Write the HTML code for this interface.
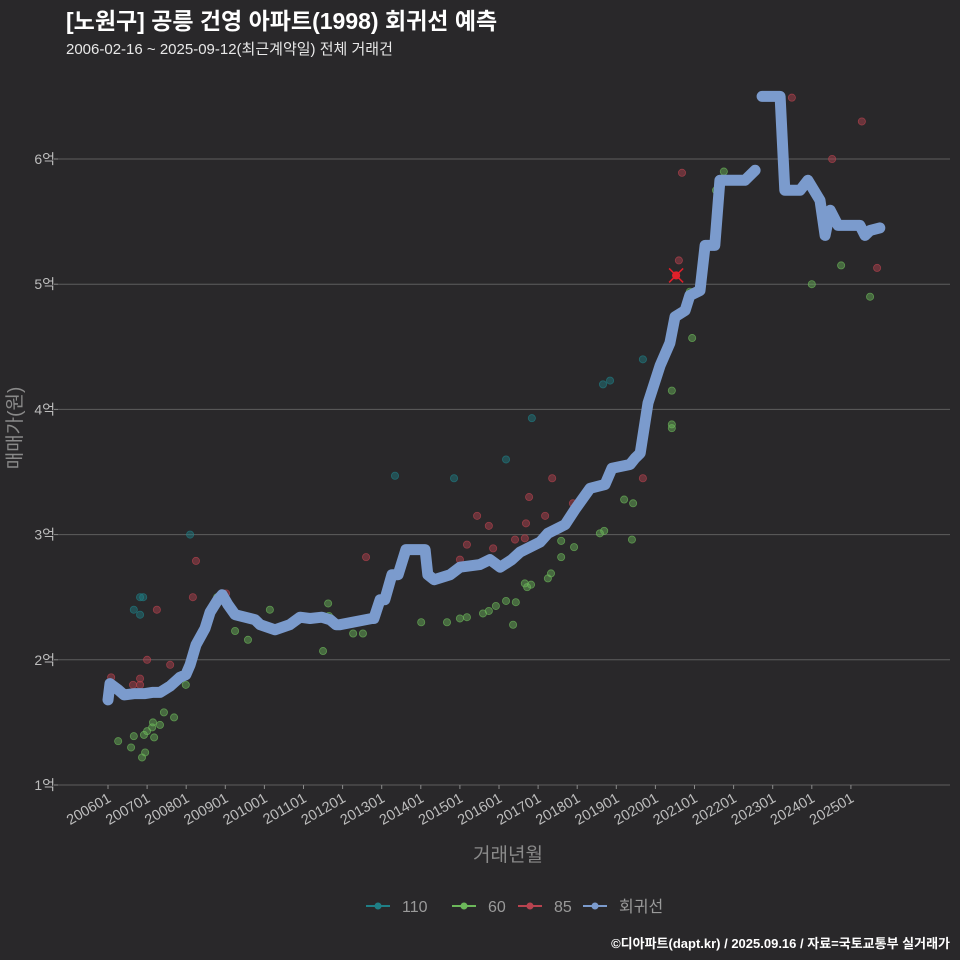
<!DOCTYPE html>
<html><head><meta charset="utf-8">
<style>
body{margin:0;background:#29282a;}
svg{display:block;font-family:"Liberation Sans","Noto Sans CJK KR",sans-serif;}
</style></head>
<body>
<svg id="chart" width="960" height="960">
<rect width="960" height="960" fill="#29282a"/>
<text x="66" y="29" fill="#ffffff" font-size="23" font-weight="bold">[노원구] 공릉 건영 아파트(1998) 회귀선 예측</text>
<text x="66" y="54" fill="#e8e8e8" font-size="15">2006-02-16 ~ 2025-09-12(최근계약일) 전체 거래건</text>
<g id="grid"></g>
<g id="yticks"></g>
<g id="xticks"></g>
<g id="points"></g>
<g id="line"></g>
<text transform="translate(21,428) rotate(-90)" text-anchor="middle" fill="#8a8a8a" font-size="19">매매가(원)</text>
<text x="508" y="861" text-anchor="middle" fill="#8a8a8a" font-size="19">거래년월</text>
<g id="legend"></g>
<text x="950" y="948" text-anchor="end" fill="#ffffff" font-size="13" font-weight="bold">©디아파트(dapt.kr) / 2025.09.16 / 자료=국토교통부 실거래가</text>
</svg>
<script>
const yTicks=[1,2,3,4,5,6];
const yTickLabels=["1억","2억","3억","4억","5억","6억"];
const xTicks=[2006,2007,2008,2009,2010,2011,2012,2013,2014,2015,2016,2017,2018,2019,2020,2021,2022,2023,2024,2025];
const xTickLabels=["200601","200701","200801","200901","201001","201101","201201","201301","201401","201501","201601","201701","201801","201901","202001","202101","202201","202301","202401","202501"];
const lineT=[2006.00,2006.05,2006.26,2006.41,2006.69,2006.95,2007.13,2007.33,2007.59,2007.84,2007.99,2008.10,2008.25,2008.48,2008.61,2008.81,2008.92,2009.07,2009.25,2009.76,2009.89,2010.27,2010.65,2010.91,2011.17,2011.47,2011.68,2011.83,2011.93,2012.75,2012.80,2012.96,2013.08,2013.26,2013.42,2013.62,2014.11,2014.18,2014.34,2014.75,2015.00,2015.51,2015.77,2016.03,2016.33,2016.54,2017.05,2017.25,2017.69,2017.94,2018.33,2018.71,2018.89,2019.35,2019.48,2019.61,2019.81,2020.12,2020.37,2020.50,2020.76,2020.88,2021.14,2021.27,2021.52,2021.65,2022.29,2022.55,null,2022.73,2023.19,2023.31,2023.70,2023.90,2024.21,2024.34,2024.47,2024.67,2024.98,2025.23,2025.36,2025.49,2025.74];
const lineV=[1.68,1.81,1.76,1.72,1.73,1.73,1.74,1.74,1.79,1.86,1.88,1.96,2.12,2.25,2.38,2.48,2.52,2.44,2.36,2.32,2.28,2.24,2.28,2.34,2.33,2.34,2.32,2.28,2.28,2.33,2.33,2.48,2.48,2.68,2.68,2.88,2.88,2.68,2.64,2.68,2.74,2.76,2.80,2.74,2.80,2.86,2.94,3.01,3.08,3.20,3.37,3.40,3.53,3.56,3.61,3.65,4.05,4.35,4.53,4.74,4.79,4.91,4.95,5.31,5.31,5.83,5.83,5.91,null,6.50,6.50,5.75,5.75,5.83,5.67,5.39,5.59,5.47,5.47,5.47,5.39,5.43,5.45];
const t110=[2006.66,2006.82,2006.90,2006.82,2008.10,2013.34,2014.85,2016.18,2016.84,2018.66,2018.84,2019.68];
const v110=[2.40,2.50,2.50,2.36,3.00,3.47,3.45,3.60,3.93,4.20,4.23,4.40];
const t60=[2006.26,2006.66,2006.59,2006.87,2006.95,2006.92,2007.00,2007.13,2007.15,2007.33,2007.18,2007.43,2007.69,2007.99,2008.79,2009.25,2009.58,2010.14,2010.35,2011.50,2011.63,2011.65,2012.27,2012.52,2014.01,2014.67,2015.00,2015.18,2015.59,2015.74,2015.92,2016.18,2016.36,2016.43,2016.66,2016.72,2016.82,2017.25,2017.33,2017.59,2017.59,2017.92,2018.58,2018.69,2019.20,2019.43,2019.40,2020.42,2020.42,2020.42,2020.88,2020.94,2021.55,2021.75,2024.00,2024.75,2025.49];
const v60=[1.35,1.39,1.30,1.22,1.26,1.40,1.43,1.46,1.50,1.48,1.38,1.58,1.54,1.80,2.50,2.23,2.16,2.40,2.25,2.07,2.45,2.35,2.21,2.21,2.30,2.30,2.33,2.34,2.37,2.39,2.43,2.47,2.28,2.46,2.61,2.58,2.60,2.65,2.69,2.95,2.82,2.90,3.01,3.03,3.28,3.25,2.96,3.88,3.85,4.15,4.94,4.57,5.75,5.90,5.00,5.15,4.90];
const t85=[2006.08,2006.64,2006.82,2006.82,2007.00,2007.25,2007.59,2008.25,2008.17,2009.02,2012.60,2015.00,2015.18,2015.44,2015.74,2015.85,2016.41,2016.66,2016.69,2016.77,2017.18,2017.36,2017.89,2019.68,2020.53,2020.60,2020.68,2023.49,2024.52,2025.28,2025.67];
const v85=[1.86,1.80,1.85,1.80,2.00,2.40,1.96,2.79,2.50,2.53,2.82,2.80,2.92,3.15,3.07,2.89,2.96,2.97,3.09,3.30,3.15,3.45,3.25,3.45,5.07,5.19,5.89,6.49,6.00,6.30,5.13];
const hiT=[2020.53], hiV=[5.07];

const NS="http://www.w3.org/2000/svg";
const X0=58,X1=950,Y_AXIS=785;
function xs(t){return 108+(t-2006)*39.1;}
function ys(v){return 785-(v-1)*125.2;}
function mk(tag,attrs,parent){const e=document.createElementNS(NS,tag);for(const k in attrs)e.setAttribute(k,attrs[k]);parent.appendChild(e);return e;}

const grid=document.getElementById('grid'),yg=document.getElementById('yticks'),xg=document.getElementById('xticks');
yTicks.forEach((v,i)=>{
  const l=mk('line',{x1:X0,x2:X1,y1:ys(v),y2:ys(v),stroke:'#5e5e5e','stroke-width':1},grid);
  
  
  mk('line',{x1:X0-4,x2:X0,y1:ys(v),y2:ys(v),stroke:'#8a8a8a'},yg);
  const t=mk('text',{x:X0-3,y:ys(v)+5,'text-anchor':'end',fill:'#bdbdbd','font-size':14},yg);
  t.textContent=yTickLabels[i];
  
  
});
xTicks.forEach((tv,i)=>{
  const x=xs(tv);
  mk('line',{x1:x,x2:x,y1:Y_AXIS,y2:Y_AXIS+4,stroke:'#8a8a8a'},xg);
  const t=mk('text',{'text-anchor':'end',fill:'#bdbdbd','font-size':14.5,transform:`translate(${x+4},${Y_AXIS+16}) rotate(-30)`},xg);
  t.textContent=xTickLabels[i];
  
  
});
const pts=document.getElementById('points');
function drawPts(T,V,col,name){
  T.forEach((t,i)=>{
    const c=mk('circle',{cx:xs(t),cy:ys(V[i]),r:3.6,fill:col,'fill-opacity':0.45,stroke:col,'stroke-opacity':0.7,'stroke-width':0.8},pts);
    
    
  });
}
drawPts(t110,v110,'#1f7f86','110');
drawPts(t60,v60,'#6cb85a','60');
drawPts(t85,v85,'#b8434f','85');
hiT.forEach((t,i)=>{
  const x=xs(t),y=ys(hiV[i]);
  const g=mk('g',{},pts);
  
  
  mk('circle',{cx:x,cy:y,r:4,fill:'#e0202a'},g);
  mk('path',{d:`M${x-7},${y-7}L${x+7},${y+7}M${x+7},${y-7}L${x-7},${y+7}`,stroke:'#e0202a','stroke-width':1.5},g);
});
const lg=document.getElementById('line');
let d='',pen=false;
lineT.forEach((t,i)=>{
  if(t===null){pen=false;return;}
  d+=(pen?'L':'M')+xs(t).toFixed(1)+','+ys(lineV[i]).toFixed(1);pen=true;
});
const p=mk('path',{d:d,fill:'none',stroke:'#7b9bcd','stroke-width':11,'stroke-linejoin':'round','stroke-linecap':'round'},lg);



const legNames=["110","60","85","회귀선"];
const legCols=["#1f7f86","#6cb85a","#b8434f","#7b9bcd"];
const legX=[366,452,518,583];
const leg=document.getElementById('legend');
legNames.forEach((n,i)=>{
  const g=mk('g',{},leg);
  
  
  mk('line',{x1:legX[i],x2:legX[i]+24,y1:906,y2:906,stroke:legCols[i],'stroke-width':2},g);
  mk('circle',{cx:legX[i]+12,cy:906,r:3.5,fill:legCols[i]},g);
  const t=mk('text',{x:legX[i]+36,y:912,fill:'#9a9a9a','font-size':16},g);
  t.textContent=n;
});
</script>
</body></html>
